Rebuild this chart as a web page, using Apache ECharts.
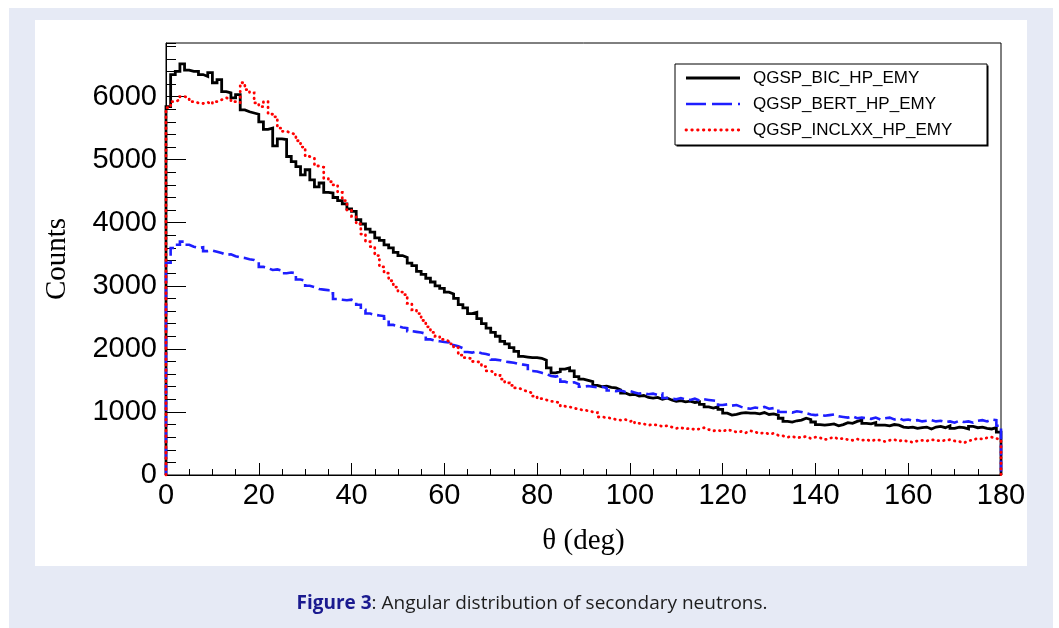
<!DOCTYPE html>
<html>
<head>
<meta charset="utf-8">
<title>Angular distribution of secondary neutrons</title>
<script src="https://cdn.jsdelivr.net/npm/echarts@6/dist/echarts.min.js"></script>
<style>
    html, body { margin: 0; padding: 0; background: #ffffff; }
    #chart { width: 1059px; height: 628px; }
</style>
</head>
<body>
<div id="chart"></div>
<script>
/**
 * 次级中子角分布 - 三个物理列表的直方图 (1 度一个 bin)
 */

// x 轴刻度标签
const thetaTicks = [0, 20, 40, 60, 80, 100, 120, 140, 160, 180];

// 图例名称
const seriesNames = ['QGSP_BIC_HP_EMY', 'QGSP_BERT_HP_EMY', 'QGSP_INCLXX_HP_EMY'];

// 每个 bin 的计数 (bin i 覆盖 i ~ i+1 度)
const bicCounts = [
    5840, 6350, 6400, 6520, 6420, 6400, 6400, 6350, 6320, 6380,
    6220, 6270, 6080, 6060, 5980, 6030, 5790, 5760, 5740, 5720,
    5600, 5480, 5500, 5220, 5330, 5320, 5050, 4970, 4890, 4760,
    4840, 4680, 4570, 4630, 4480, 4470, 4400, 4350, 4300, 4220,
    4180, 4050, 3980, 3900, 3850, 3760, 3720, 3650, 3600, 3530,
    3480, 3450, 3360, 3320, 3230, 3180, 3120, 3060, 3000, 2960,
    2900, 2870, 2800, 2700, 2650, 2560, 2580, 2480, 2400, 2330,
    2260, 2200, 2120, 2080, 2020, 1960, 1880, 1870, 1860, 1860,
    1850, 1820, 1700, 1620, 1640, 1680, 1700, 1650, 1560, 1520,
    1500, 1480, 1420, 1400, 1410, 1390, 1380, 1350, 1300, 1270,
    1280, 1250, 1260, 1230, 1220, 1230, 1200, 1220, 1190, 1170,
    1180, 1160, 1170, 1150, 1160, 1120, 1080, 1060, 1080, 1040,
    980, 950, 960, 980, 990, 980, 980, 970, 990, 960,
    970, 950, 900, 850, 840, 860, 870, 900, 880, 840,
    800, 790, 800, 810, 780, 800, 830, 820, 850, 870,
    820, 810, 830, 790, 790, 780, 800, 790, 760, 750,
    760, 740, 750, 760, 730, 760, 770, 750, 780, 740,
    760, 750, 730, 770, 750, 760, 740, 730, 750, 680
];

const bertCounts = [
    3365, 3600, 3650, 3700, 3650, 3620, 3600, 3610, 3550, 3560,
    3540, 3520, 3490, 3500, 3470, 3450, 3440, 3420, 3410, 3380,
    3300, 3280, 3250, 3260, 3240, 3200, 3210, 3200, 3100, 3080,
    3000, 2980, 2950, 2940, 2930, 2880, 2790, 2780, 2770, 2780,
    2750, 2700, 2620, 2560, 2540, 2530, 2520, 2480, 2380, 2360,
    2340, 2330, 2280, 2270, 2260, 2240, 2150, 2130, 2120, 2110,
    2100, 2060, 2040, 2010, 1950, 1940, 1960, 1930, 1920, 1900,
    1830, 1820, 1800, 1790, 1780, 1760, 1750, 1740, 1650, 1640,
    1620, 1600, 1570, 1560, 1580, 1480, 1460, 1470, 1440, 1400,
    1410, 1400, 1390, 1400, 1380, 1340, 1330, 1340, 1320, 1330,
    1310, 1290, 1300, 1280, 1290, 1270, 1290, 1220, 1210, 1200,
    1220, 1200, 1190, 1210, 1180, 1200, 1190, 1180, 1170, 1110,
    1120, 1100, 1110, 1080, 1060, 1050, 1070, 1060, 1080, 1050,
    1060, 1040, 1000, 1000, 990, 1010, 1000, 980, 960, 950,
    960, 940, 950, 960, 930, 920, 910, 930, 900, 910,
    900, 890, 910, 880, 900, 910, 880, 900, 870, 880,
    860, 870, 850, 860, 870, 850, 860, 840, 850, 830,
    860, 840, 850, 830, 860, 870, 850, 880, 870, 780
];

const inclxxCounts = [
    5825, 5920, 5950, 6000, 5980, 5920, 5900, 5890, 5910, 5880,
    5920, 5950, 5980, 5960, 5920, 5900, 6220, 6110, 6060, 5900,
    5840, 5920, 5720, 5680, 5500, 5450, 5420, 5400, 5300, 5200,
    5050, 5020, 4900, 4880, 4700, 4650, 4600, 4480, 4350, 4200,
    4100, 3980, 3820, 3700, 3620, 3480, 3300, 3200, 3080, 2980,
    2900, 2860, 2720, 2620, 2560, 2450, 2350, 2260, 2200, 2150,
    2120, 2080, 2020, 1900, 1860, 1840, 1800, 1780, 1720, 1650,
    1620, 1580, 1520, 1460, 1420, 1380, 1350, 1320, 1300, 1250,
    1210, 1190, 1170, 1160, 1140, 1090, 1080, 1060, 1040, 1030,
    1020, 1000, 990, 920, 910, 900, 880, 870, 880, 850,
    860, 820, 810, 790, 800, 790, 770, 780, 760, 740,
    750, 730, 740, 720, 730, 750, 720, 700, 710, 690,
    720, 700, 680, 690, 670, 700, 680, 660, 670, 650,
    660, 630, 620, 600, 610, 590, 600, 610, 580, 600,
    590, 560, 580, 600, 570, 580, 560, 550, 570, 550,
    560, 540, 560, 550, 530, 550, 560, 540, 550, 530,
    520, 540, 550, 540, 560, 550, 540, 550, 560, 540,
    530, 510, 540, 560, 580, 570, 590, 600, 580, 560
];

/**
 * 把 bin 计数转成阶梯线的点: 从 0 升起, 在 180 度处落回 0
 */
function histogramPoints(counts) {
    const points = [[0, 0]];
    counts.forEach(function(v, i) {
        points.push([i, v]);
    });
    const last = counts[counts.length - 1];
    points.push([counts.length, last]);
    points.push([counts.length, 0]);
    return points;
}

/**
 * 阶梯线系列
 */
function histSeries(name, counts, style) {
    return {
        name: name,
        type: 'line',
        step: 'end',
        symbol: 'none',
        showSymbol: false,
        animation: false,
        silent: true,
        data: histogramPoints(counts),
        lineStyle: {
            color: style.color,
            width: style.width,
            type: style.dash,
            cap: style.cap,
            join: 'miter'
        }
    };
}

// 线型: 黑实线, 蓝虚线, 红点线
const lineStyles = [
    { color: '#000000', width: 2.8, dash: 'solid', cap: 'butt', legendDash: null },
    { color: '#1e1eff', width: 2.6, dash: [11, 5], cap: 'butt', legendDash: [20, 6] },
    { color: '#ff0000', width: 2.8, dash: [0.5, 5], cap: 'round', legendDash: [0.5, 5.3] }
];

const chart = echarts.init(document.getElementById('chart'), null, { renderer: 'canvas' });

// 图例 (ROOT 风格的方框)
const legendChildren = [
    { type: 'rect', shape: { x: 1.5, y: 1.5, width: 312, height: 81 }, style: { fill: '#000000' } },
    { type: 'rect', shape: { x: 0, y: 0, width: 312, height: 81 }, style: { fill: '#ffffff', stroke: '#000000', lineWidth: 1 } }
];
seriesNames.forEach(function(name, i) {
    const cy = 14 + i * 26;
    const st = lineStyles[i];
    legendChildren.push({
        type: 'line',
        shape: { x1: 11, y1: cy, x2: 65, y2: cy },
        style: { stroke: st.color, lineWidth: st.width, lineDash: st.legendDash, lineCap: st.cap }
    });
    legendChildren.push({
        type: 'text',
        x: 78,
        y: cy,
        style: {
            text: name,
            fill: '#000000',
            font: '17px "Liberation Sans", Arial, sans-serif',
            verticalAlign: 'middle'
        }
    });
});

const option = {
    animation: false,
    backgroundColor: '#ffffff',
    grid: {
        left: 166,
        right: 58,
        top: 43,
        bottom: 153,
        show: true,
        borderColor: '#000000',
        borderWidth: 1,
        backgroundColor: 'transparent'
    },
    xAxis: {
        type: 'value',
        min: thetaTicks[0],
        max: thetaTicks[thetaTicks.length - 1],
        interval: 20,
        name: 'θ (deg)',
        nameLocation: 'middle',
        nameGap: 52,
        nameTextStyle: {
            fontFamily: '"Liberation Serif", "DejaVu Serif", serif',
            fontSize: 29,
            color: '#000000'
        },
        axisLine: { show: true, onZero: false, lineStyle: { color: '#000000', width: 1 } },
        axisTick: { show: true, inside: true, length: 12, lineStyle: { color: '#000000', width: 1 } },
        minorTick: { show: true, splitNumber: 4, length: 6, lineStyle: { color: '#000000', width: 1 } },
        axisLabel: {
            margin: 6,
            fontFamily: '"Liberation Sans", Arial, sans-serif',
            fontSize: 29,
            color: '#000000',
            formatter: function(v) { return String(v); }
        },
        splitLine: { show: false }
    },
    yAxis: [
        {
            type: 'value',
            min: 0,
            max: 6850,
            interval: 1000,
            name: 'Counts',
            nameLocation: 'middle',
            nameGap: 94,
            nameTextStyle: {
                fontFamily: '"Liberation Serif", "DejaVu Serif", serif',
                fontSize: 29,
                color: '#000000'
            },
            axisLine: { show: true, onZero: false, lineStyle: { color: '#000000', width: 1 } },
            axisTick: { show: true, inside: true, length: 20, lineStyle: { color: '#000000', width: 1 } },
            axisLabel: {
                margin: 9,
                fontFamily: '"Liberation Sans", Arial, sans-serif',
                fontSize: 29,
                color: '#000000',
                showMaxLabel: false,
                formatter: function(v) { return String(v); }
            },
            splitLine: { show: false }
        },
        {
            // 次刻度: 每 200 一个
            type: 'value',
            min: 0,
            max: 6850,
            interval: 200,
            position: 'left',
            axisLine: { show: false },
            axisTick: { show: true, inside: true, length: 10, lineStyle: { color: '#000000', width: 1 } },
            axisLabel: { show: false },
            splitLine: { show: false }
        }
    ],
    graphic: [
        // 页面背景
        { type: 'rect', z: -10, shape: { x: 9, y: 8, width: 1044, height: 620 }, style: { fill: '#e6eaf5' } },
        { type: 'rect', z: -9, shape: { x: 35, y: 20, width: 992, height: 546 }, style: { fill: '#ffffff' } },
        { type: 'group', x: 675, y: 64, z: 10, children: legendChildren },
        // 图注
        {
            type: 'text',
            x: 532,
            y: 604,
            style: {
                text: '{fig|Figure 3}{rest|: Angular distribution of secondary neutrons.}',
                align: 'center',
                verticalAlign: 'middle',
                rich: {
                    fig: { fontFamily: '"Open Sans", "Noto Sans", sans-serif', fontSize: 19, fontWeight: 'bold', fill: '#1a1a8f' },
                    rest: { fontFamily: '"Open Sans", "Noto Sans", sans-serif', fontSize: 19, fill: '#1d1d1d' }
                }
            }
        }
    ],
    series: seriesNames.map(function(name, i) {
        return histSeries(name, [bicCounts, bertCounts, inclxxCounts][i], lineStyles[i]);
    })
};

chart.setOption(option);
</script>
</body>
</html>
